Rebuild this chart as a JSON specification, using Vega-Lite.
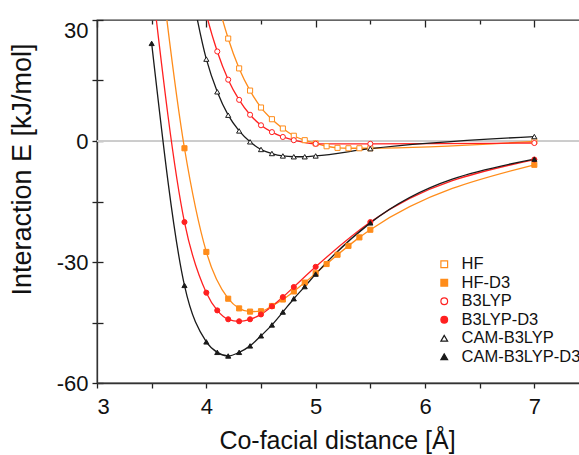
{
  "$schema": "https://vega.github.io/schema/vega-lite/v6.json",
  "autosize": "none",
  "padding": {"left": 97, "top": 20, "right": 0, "bottom": 72},
  "width": 492,
  "height": 363,
  "config": {
    "font": "Liberation Sans",
    "view": {"stroke": "#333333", "strokeWidth": 1.3},
    "axis": {"labelFont": "Liberation Sans", "titleFont": "Liberation Sans", "labelColor": "#111111", "titleColor": "#111111", "titleFontWeight": "normal", "domainColor": "#333333", "domainWidth": 1.3, "tickColor": "#222222", "tickWidth": 1.3, "gridColor": "#222222", "gridWidth": 1.3, "gridOpacity": 1}
  },
  "data": {"values": [
    {"series": "HF", "x": 3.8, "y": 86},
    {"series": "HF", "x": 4.0, "y": 47.5},
    {"series": "HF", "x": 4.2, "y": 25.4},
    {"series": "HF", "x": 4.3, "y": 18.0},
    {"series": "HF", "x": 4.4, "y": 12.5},
    {"series": "HF", "x": 4.5, "y": 8.3},
    {"series": "HF", "x": 4.6, "y": 5.4},
    {"series": "HF", "x": 4.7, "y": 3.1},
    {"series": "HF", "x": 4.8, "y": 1.3},
    {"series": "HF", "x": 4.9, "y": 0.2},
    {"series": "HF", "x": 5.0, "y": -0.6},
    {"series": "HF", "x": 5.1, "y": -1.3},
    {"series": "HF", "x": 5.2, "y": -1.7},
    {"series": "HF", "x": 5.3, "y": -1.8},
    {"series": "HF", "x": 5.4, "y": -1.8},
    {"series": "HF", "x": 5.5, "y": -1.8},
    {"series": "HF", "x": 7.0, "y": -0.1},
    {"series": "HF-D3", "x": 3.5, "y": 62},
    {"series": "HF-D3", "x": 3.8, "y": -1.8},
    {"series": "HF-D3", "x": 4.0, "y": -27.5},
    {"series": "HF-D3", "x": 4.2, "y": -39.1},
    {"series": "HF-D3", "x": 4.3, "y": -41.5},
    {"series": "HF-D3", "x": 4.4, "y": -42.3},
    {"series": "HF-D3", "x": 4.5, "y": -42.2},
    {"series": "HF-D3", "x": 4.6, "y": -40.9},
    {"series": "HF-D3", "x": 4.7, "y": -39.3},
    {"series": "HF-D3", "x": 4.8, "y": -37.3},
    {"series": "HF-D3", "x": 4.9, "y": -35.1},
    {"series": "HF-D3", "x": 5.0, "y": -32.8},
    {"series": "HF-D3", "x": 5.1, "y": -30.5},
    {"series": "HF-D3", "x": 5.2, "y": -28.2},
    {"series": "HF-D3", "x": 5.3, "y": -26.0},
    {"series": "HF-D3", "x": 5.4, "y": -23.9},
    {"series": "HF-D3", "x": 5.5, "y": -22.0},
    {"series": "HF-D3", "x": 7.0, "y": -5.9},
    {"series": "B3LYP", "x": 3.8, "y": 62},
    {"series": "B3LYP", "x": 4.0, "y": 31.5},
    {"series": "B3LYP", "x": 4.1, "y": 22.2},
    {"series": "B3LYP", "x": 4.2, "y": 15.2},
    {"series": "B3LYP", "x": 4.3, "y": 10.2},
    {"series": "B3LYP", "x": 4.4, "y": 6.5},
    {"series": "B3LYP", "x": 4.5, "y": 3.9},
    {"series": "B3LYP", "x": 4.6, "y": 2.2},
    {"series": "B3LYP", "x": 4.7, "y": 1.0},
    {"series": "B3LYP", "x": 4.8, "y": 0.2},
    {"series": "B3LYP", "x": 5.0, "y": -0.7},
    {"series": "B3LYP", "x": 5.5, "y": -0.7},
    {"series": "B3LYP", "x": 7.0, "y": -0.5},
    {"series": "B3LYP-D3", "x": 3.5, "y": 40},
    {"series": "B3LYP-D3", "x": 3.8, "y": -20.1},
    {"series": "B3LYP-D3", "x": 4.0, "y": -37.6},
    {"series": "B3LYP-D3", "x": 4.1, "y": -42.0},
    {"series": "B3LYP-D3", "x": 4.2, "y": -44.2},
    {"series": "B3LYP-D3", "x": 4.3, "y": -44.7},
    {"series": "B3LYP-D3", "x": 4.4, "y": -44.2},
    {"series": "B3LYP-D3", "x": 4.5, "y": -43.0},
    {"series": "B3LYP-D3", "x": 4.6, "y": -41.0},
    {"series": "B3LYP-D3", "x": 4.7, "y": -38.7},
    {"series": "B3LYP-D3", "x": 4.8, "y": -36.2},
    {"series": "B3LYP-D3", "x": 5.0, "y": -31.2},
    {"series": "B3LYP-D3", "x": 5.5, "y": -20.1},
    {"series": "B3LYP-D3", "x": 7.0, "y": -4.6},
    {"series": "CAM-B3LYP", "x": 3.8, "y": 47},
    {"series": "CAM-B3LYP", "x": 4.0, "y": 20.3},
    {"series": "CAM-B3LYP", "x": 4.1, "y": 12.2},
    {"series": "CAM-B3LYP", "x": 4.2, "y": 6.4},
    {"series": "CAM-B3LYP", "x": 4.3, "y": 2.5},
    {"series": "CAM-B3LYP", "x": 4.4, "y": -0.2},
    {"series": "CAM-B3LYP", "x": 4.5, "y": -2.1},
    {"series": "CAM-B3LYP", "x": 4.6, "y": -3.1},
    {"series": "CAM-B3LYP", "x": 4.7, "y": -3.7},
    {"series": "CAM-B3LYP", "x": 4.8, "y": -3.9},
    {"series": "CAM-B3LYP", "x": 4.9, "y": -3.9},
    {"series": "CAM-B3LYP", "x": 5.0, "y": -3.7},
    {"series": "CAM-B3LYP", "x": 5.5, "y": -1.9},
    {"series": "CAM-B3LYP", "x": 7.0, "y": 1.1},
    {"series": "CAM-B3LYP-D3", "x": 3.5, "y": 24.2},
    {"series": "CAM-B3LYP-D3", "x": 3.8, "y": -35.8},
    {"series": "CAM-B3LYP-D3", "x": 4.0, "y": -49.8},
    {"series": "CAM-B3LYP-D3", "x": 4.1, "y": -52.4},
    {"series": "CAM-B3LYP-D3", "x": 4.2, "y": -53.3},
    {"series": "CAM-B3LYP-D3", "x": 4.3, "y": -52.4},
    {"series": "CAM-B3LYP-D3", "x": 4.4, "y": -50.8},
    {"series": "CAM-B3LYP-D3", "x": 4.5, "y": -48.3},
    {"series": "CAM-B3LYP-D3", "x": 4.6, "y": -45.6},
    {"series": "CAM-B3LYP-D3", "x": 4.7, "y": -42.4},
    {"series": "CAM-B3LYP-D3", "x": 4.8, "y": -39.1},
    {"series": "CAM-B3LYP-D3", "x": 4.9, "y": -36.1},
    {"series": "CAM-B3LYP-D3", "x": 5.0, "y": -33.0},
    {"series": "CAM-B3LYP-D3", "x": 5.5, "y": -20.3},
    {"series": "CAM-B3LYP-D3", "x": 7.0, "y": -4.5}
  ]},
  "encoding": {
    "x": {"field": "x", "type": "quantitative",
      "scale": {"domain": [3, 7.5], "nice": false, "zero": false},
      "axis": {
        "title": "Co-facial distance [Å]",
        "values": [3, 3.5, 4, 4.5, 5, 5.5, 6, 6.5, 7, 7.5],
        "labelExpr": "datum.value % 1 == 0 ? toString(datum.value) : ''",
        "labelFontSize": 22, "titleFontSize": 25,
        "tickSize": 5,
        "labelPadding": 8,
        "grid": true,
        "gridDash": {"condition": {"test": "datum.value % 1 == 0", "value": [7, 2000]}, "value": [4, 2000]},
        "titleX": 240, "titleY": 45
      }},
    "y": {"field": "y", "type": "quantitative",
      "scale": {"domain": [-60, 30], "nice": false, "zero": false},
      "axis": {
        "title": "Interaction E [kJ/mol]",
        "values": [-60, -45, -30, -15, 0, 15, 30],
        "labelExpr": "datum.value % 30 == 0 ? toString(datum.value) : ''",
        "labelFontSize": 22, "titleFontSize": 27,
        "tickSize": 5,
        "labelPadding": 4,
        "grid": true,
        "gridDash": [6, 2000],
        "labelBaseline": {"condition": {"test": "datum.value == 30", "value": "top"}, "value": "middle"},
        "titleX": -61, "titleY": 149
      }}
  },
  "layer": [
    {
      "mark": {"type": "rule", "color": "#cccccc", "strokeWidth": 1},
      "encoding": {"y": {"datum": 0}, "x": null}
    },
    {
      "mark": {"type": "line", "interpolate": "monotone", "strokeWidth": 1.3, "clip": true},
      "encoding": {
        "stroke": {"field": "series", "type": "nominal",
          "scale": {"domain": ["HF", "HF-D3", "B3LYP", "B3LYP-D3", "CAM-B3LYP", "CAM-B3LYP-D3"],
                    "range": ["#FF8C1A", "#FF8C1A", "#FF2020", "#FF2020", "#1a1a1a", "#1a1a1a"]},
          "legend": {
            "title": null, "orient": "none", "legendX": 339, "legendY": 236, "padding": 0,
            "labelFont": "Liberation Sans", "labelFontSize": 16.5, "labelColor": "#111111",
            "symbolSize": 45, "symbolStrokeWidth": 1.2, "labelOffset": 9, "rowPadding": 1.5,
            "symbolOpacity": 1
          }}
      }
    },
    {
      "mark": {"type": "point", "size": 26, "strokeWidth": 1, "opacity": 1, "clip": true},
      "encoding": {
        "stroke": {"field": "series", "type": "nominal", "legend": null},
        "shape": {"field": "series", "type": "nominal",
          "scale": {"domain": ["HF", "HF-D3", "B3LYP", "B3LYP-D3", "CAM-B3LYP", "CAM-B3LYP-D3"],
                    "range": ["square", "square", "circle", "circle", "triangle-up", "triangle-up"]},
          "legend": null},
        "fill": {"field": "series", "type": "nominal",
          "scale": {"domain": ["HF", "HF-D3", "B3LYP", "B3LYP-D3", "CAM-B3LYP", "CAM-B3LYP-D3"],
                    "range": ["#ffffff", "#FF8C1A", "#ffffff", "#FF2020", "#ffffff", "#1a1a1a"]},
          "legend": null}
      }
    }
  ]
}
